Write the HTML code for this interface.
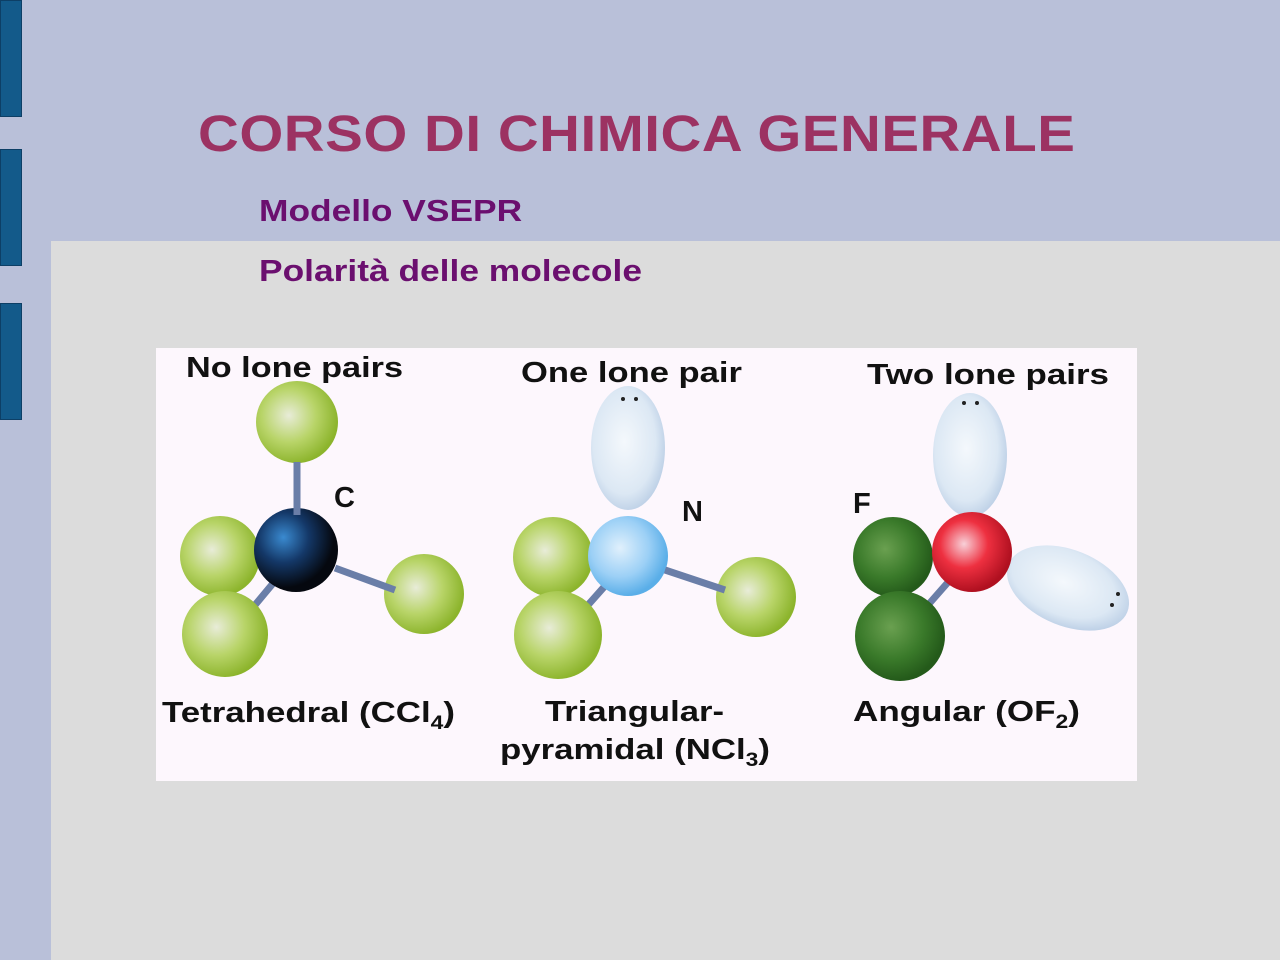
<!DOCTYPE html>
<html><head><meta charset="utf-8"><style>
html,body{margin:0;padding:0}
body{width:1280px;height:960px;position:relative;background:#b9c0d9;overflow:hidden;font-family:"Liberation Sans",sans-serif}
.bar{position:absolute;left:0;width:22px;background:#135a8a;border:1px solid #0d3f66;box-sizing:border-box}
#panel{position:absolute;left:51px;top:241px;right:0;bottom:0;background:#dcdcdc}
h1{position:absolute;left:198px;top:104px;margin:0;font-size:51px;font-weight:bold;color:#9c3262;letter-spacing:0.5px;white-space:nowrap;transform:scaleX(1.107);transform-origin:0 0}
.sub{position:absolute;left:259px;font-size:31px;font-weight:bold;color:#6b0f6f;white-space:nowrap;transform:scaleX(1.14);transform-origin:0 0}
svg{position:absolute;left:156px;top:348px}
</style></head><body>
<div class="bar" style="top:0;height:117px"></div>
<div class="bar" style="top:149px;height:117px"></div>
<div class="bar" style="top:303px;height:117px"></div>
<div id="panel"></div>
<h1>CORSO DI CHIMICA GENERALE</h1>
<div class="sub" style="top:193px">Modello VSEPR</div>
<div class="sub" style="top:253px">Polarità delle molecole</div>
<svg width="981" height="433" viewBox="156 348 981 433">
<defs>
<radialGradient id="g" cx="0.4" cy="0.42" r="0.6"><stop offset="0" stop-color="#e8ecd8"/><stop offset="0.55" stop-color="#b8d468"/><stop offset="1" stop-color="#8cb42c"/></radialGradient>
<radialGradient id="c" cx="0.35" cy="0.35" r="0.6"><stop offset="0" stop-color="#3a8ad0"/><stop offset="0.5" stop-color="#143868"/><stop offset="1" stop-color="#05080f"/></radialGradient>
<radialGradient id="n" cx="0.4" cy="0.4" r="0.6"><stop offset="0" stop-color="#e0f0fc"/><stop offset="0.6" stop-color="#9cd0f6"/><stop offset="1" stop-color="#5aaee8"/></radialGradient>
<radialGradient id="o" cx="0.4" cy="0.4" r="0.6"><stop offset="0" stop-color="#f8d0d8"/><stop offset="0.5" stop-color="#ee3040"/><stop offset="1" stop-color="#b01020"/></radialGradient>
<radialGradient id="f" cx="0.4" cy="0.4" r="0.6"><stop offset="0" stop-color="#6aa050"/><stop offset="0.6" stop-color="#3a7a2a"/><stop offset="1" stop-color="#245a1a"/></radialGradient>
<radialGradient id="l" cx="0.45" cy="0.45" r="0.6"><stop offset="0" stop-color="#f4f8fc"/><stop offset="0.7" stop-color="#dce8f4"/><stop offset="1" stop-color="#b8cce4"/></radialGradient>
</defs>
<rect x="156" y="348" width="981" height="433" fill="#fdf7fd"/>
<g stroke="#6a7ea8" stroke-width="7" stroke-linecap="round">
<line x1="240" y1="556" x2="270" y2="556"/><line x1="255" y1="605" x2="280" y2="575"/>
<line x1="575" y1="557" x2="600" y2="557"/><line x1="588" y1="605" x2="612" y2="578"/>
<line x1="930" y1="556" x2="945" y2="556"/><line x1="928" y1="605" x2="950" y2="580"/>
</g>
<circle cx="297" cy="422" r="41" fill="url(#g)"/>
<circle cx="220" cy="556" r="40" fill="url(#g)"/>
<circle cx="296" cy="550" r="42" fill="url(#c)"/>
<circle cx="225" cy="634" r="43" fill="url(#g)"/>
<circle cx="424" cy="594" r="40" fill="url(#g)"/>
<line x1="297" y1="462" x2="297" y2="515" stroke="#6a7ea8" stroke-width="7"/>
<line x1="335" y1="568" x2="395" y2="590" stroke="#6a7ea8" stroke-width="7"/>
<ellipse cx="628" cy="448" rx="37" ry="62" fill="url(#l)"/>
<circle cx="553" cy="557" r="40" fill="url(#g)"/>
<circle cx="628" cy="556" r="40" fill="url(#n)"/>
<circle cx="558" cy="635" r="44" fill="url(#g)"/>
<circle cx="756" cy="597" r="40" fill="url(#g)"/>
<line x1="665" y1="570" x2="725" y2="590" stroke="#6a7ea8" stroke-width="7"/>
<ellipse cx="970" cy="455" rx="37" ry="62" fill="url(#l)"/>
<ellipse cx="1068" cy="588" rx="64" ry="38" transform="rotate(22 1068 588)" fill="url(#l)"/>
<circle cx="893" cy="557" r="40" fill="url(#f)"/>
<circle cx="972" cy="552" r="40" fill="url(#o)"/>
<circle cx="900" cy="636" r="45" fill="url(#f)"/>
<g fill="#222"><circle cx="623" cy="399" r="2"/><circle cx="636" cy="399" r="2"/><circle cx="964" cy="403" r="2"/><circle cx="977" cy="403" r="2"/><circle cx="1112" cy="605" r="2"/><circle cx="1118" cy="594" r="2"/></g>
<g font-family="Liberation Sans, sans-serif" font-weight="bold" font-size="29" fill="#111">
<text x="186" y="377" textLength="217" lengthAdjust="spacingAndGlyphs">No lone pairs</text>
<text x="521" y="382" textLength="221" lengthAdjust="spacingAndGlyphs">One lone pair</text>
<text x="867" y="384" textLength="242" lengthAdjust="spacingAndGlyphs">Two lone pairs</text>
<text x="334" y="507">C</text>
<text x="682" y="521">N</text>
<text x="853" y="513">F</text>
<text x="162" y="722" textLength="293" lengthAdjust="spacingAndGlyphs">Tetrahedral (CCl<tspan font-size="19" dy="7">4</tspan><tspan dy="-7">)</tspan></text>
<text x="545" y="721" textLength="179" lengthAdjust="spacingAndGlyphs">Triangular-</text>
<text x="500" y="759" textLength="270" lengthAdjust="spacingAndGlyphs">pyramidal (NCl<tspan font-size="19" dy="7">3</tspan><tspan dy="-7">)</tspan></text>
<text x="853" y="721" textLength="227" lengthAdjust="spacingAndGlyphs">Angular (OF<tspan font-size="19" dy="7">2</tspan><tspan dy="-7">)</tspan></text>
</g>
</svg>
</body></html>
